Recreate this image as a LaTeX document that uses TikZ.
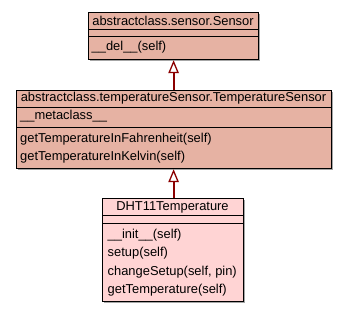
\documentclass[tikz,border=0pt]{standalone}
\usepackage{fontspec}
\setmainfont{Liberation Sans}
\usetikzlibrary{arrows.meta,shadows}
\definecolor{abstractfill}{RGB}{230,178,163}
\definecolor{classfill}{RGB}{255,212,212}
\definecolor{inheritline}{RGB}{139,0,0}

\begin{document}
\begin{tikzpicture}[x=1pt,y=-1pt]
    \tikzstyle{classbox}=[draw=black, line width=1.2pt, inner sep=0pt, anchor=north west,
        drop shadow={shadow xshift=1pt, shadow yshift=-1pt, fill=black!35, opacity=1}]
    \tikzstyle{member}=[anchor=base west, inner sep=0pt, font=\fontsize{12.9}{15}\selectfont]
    \tikzstyle{title}=[anchor=base, inner sep=0pt, font=\fontsize{12.9}{15}\selectfont]
    \tikzstyle{inherits}=[draw=inheritline, line width=2pt,
        -{Triangle[open, length=13pt, width=10.5pt, line width=1.3pt]}]
    \useasboundingbox (0,0) rectangle (347,312);

    % abstractclass.sensor.Sensor
    \node[classbox, fill=abstractfill, minimum width=170pt, minimum height=47pt] (sensor) at (88,12) {};
    \draw[line width=1.2pt] (88,29.3) -- (258,29.3);
    \draw[line width=1.2pt] (88,36.7) -- (258,36.7);
    \node[title] (sensorname) at (173,25.7) {abstractclass.sensor.Sensor};
    \node[member] (sensordel) at (91.5,50.5) {\_\_del\_\_(self)};

    % abstractclass.temperatureSensor.TemperatureSensor
    \node[classbox, fill=abstractfill, minimum width=315pt, minimum height=78pt] (tsensor) at (16,90) {};
    \draw[line width=1.2pt] (16,107.7) -- (331,107.7);
    \draw[line width=1.2pt] (16,127.7) -- (331,127.7);
    \node[title] (tsensorname) at (173.5,102) {abstractclass.temperatureSensor.TemperatureSensor};
    \node[member] (tsensormeta) at (20,119.5) {\_\_metaclass\_\_};
    \node[member] (tsensorfahr) at (20,142.7) {getTemperatureInFahrenheit(self)};
    \node[member] (tsensorkelv) at (20,160.7) {getTemperatureInKelvin(self)};

    % DHT11Temperature
    \node[classbox, fill=classfill, minimum width=141pt, minimum height=103pt] (dht) at (102,198) {};
    \draw[line width=1.2pt] (102,215.7) -- (243,215.7);
    \draw[line width=1.2pt] (102,223.3) -- (243,223.3);
    \node[title] (dhtname) at (172.5,210.7) {DHT11Temperature};
    \node[member] (dhtinit) at (107.5,238.3) {\_\_init\_\_(self)};
    \node[member] (dhtsetup) at (107.5,256.7) {setup(self)};
    \node[member] (dhtchange) at (107.5,275) {changeSetup(self, pin)};
    \node[member] (dhtget) at (107.5,293.3) {getTemperature(self)};

    % inheritance
    \draw[inherits] (tsensor.north -| sensor.south) -- (sensor.south);
    \draw[inherits] (dht.north -| sensor.south) -- (tsensor.south -| sensor.south);
\end{tikzpicture}
\end{document}
